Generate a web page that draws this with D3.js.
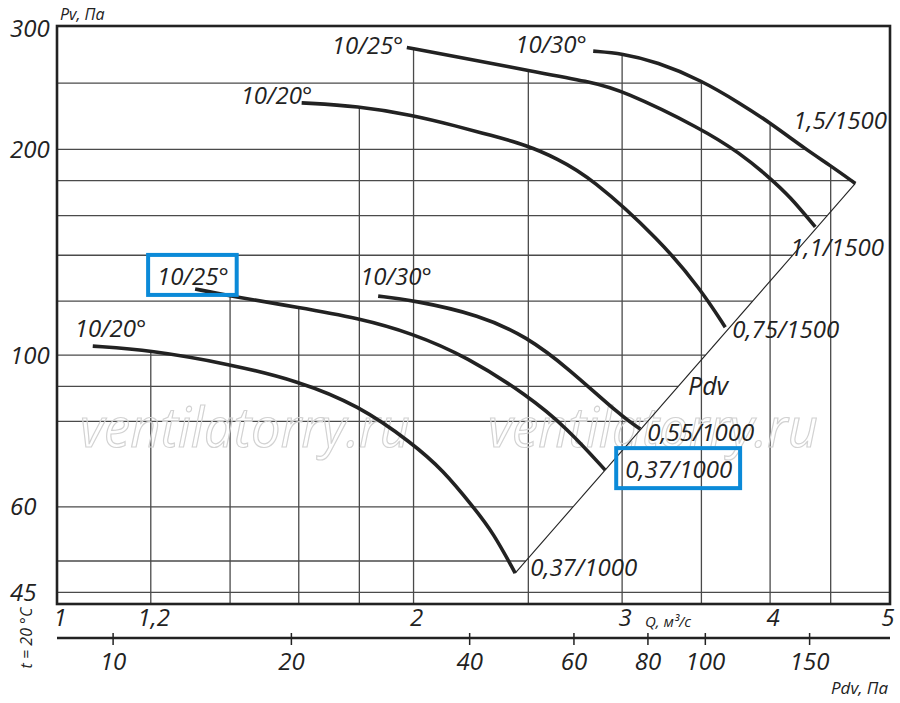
<!DOCTYPE html>
<html>
<head>
<meta charset="utf-8">
<script src="https://cdn.jsdelivr.net/npm/d3@7"></script>
<style>
body { margin: 0; background: #fff; }
text { font-family: "Open Sans", "DejaVu Sans", sans-serif; font-style: italic; fill: #222; }
</style>
</head>
<body>
<svg id="chart" width="900" height="703"></svg>
<script>
// fan curves, Q in m3/s and Pv in Pa
var q20lo = [1.072, 1.198, 1.400, 1.598, 1.796, 1.994, 2.118, 2.246, 2.335, 2.437];
var pv20lo = [103.1, 101.7, 97.0, 91.7, 84.5, 74.4, 67.9, 60.0, 55.0, 48.0];
var q25lo = [1.308, 1.400, 1.598, 1.796, 1.994, 2.220, 2.494, 2.696, 2.903];
var pv25lo = [125.0, 122.0, 117.5, 113.3, 107.7, 99.4, 87.4, 78.2, 67.9];
var q30lo = [1.867, 1.994, 2.277, 2.494, 2.696, 3.000, 3.108];
var pv30lo = [122.0, 120.4, 114.5, 106.3, 96.0, 81.2, 78.0];
var q20hi = [1.609, 1.795, 1.997, 2.176, 2.322, 2.493, 2.642, 2.820, 3.231, 3.499, 3.666];
var pv20hi = [233.9, 231.4, 224.4, 216.2, 209.8, 202.8, 194.0, 182.3, 147.3, 124.5, 109.9];
var q25hi = [1.974, 2.176, 2.493, 2.820, 2.999, 3.498, 3.775, 3.989, 4.160, 4.367];
var pv25hi = [281.8, 273.1, 261.1, 251.0, 244.1, 214.6, 197.3, 182.3, 170.5, 154.0];
var q30hi = [2.836, 2.999, 3.210, 3.498, 3.775, 3.989, 4.297, 4.491, 4.721];
var pv30hi = [278.4, 276.2, 268.5, 252.5, 233.4, 219.4, 199.5, 189.7, 178.3];

var startLabels = ["10/20°", "10/25°", "10/30°", "10/20°", "10/25°", "10/30°"];
var endLabels = ["0,37/1000", "0,37/1000", "0,55/1000", "0,75/1500", "1,1/1500", "1,5/1500"];

// Pv = Pdv line
var diagQ = [2.437, 4.721];
var diagPv = [48.0, 178.3];

var qGrid = [1.2, 1.4, 1.6, 1.8, 2, 2.5, 3, 3.5, 4, 4.5];
var qTicks = [1, 1.2, 2, 3, 4, 5];
var qTickLabels = ["1", "1,2", "2", "3", "4", "5"];
var pvGrid = [250, 200, 180, 160, 140, 120, 100, 90, 80, 60, 50, 45];
var pvTicks = [300, 200, 100, 60, 45];
var pdvTicks = [10, 20, 40, 60, 80, 100, 150];
var pdvPerQ2 = 8.04;   // Pdv, Pa for Q = 1 m3/s

// label nudges (px) from curve start / end
var startNudge = [[-18, -9], [-38, -4], [-18, -11], [-61, 1], [-75, 6], [-78, 2]];
var endNudge = [[15, 3], [20, 8], [7, 12], [7, 11], [-25, 29], [-62, -54]];

var svg = d3.select("#chart");
var plotL = 57, plotR = 890, plotT = 26, plotB = 604;

var x = d3.scaleLog().domain([1, 5.05]).range([plotL, plotR]);
var y = d3.scaleLog().domain([43.26, 303]).range([plotB, plotT]);
var xPdv = d3.scaleLog().domain([pdvPerQ2, pdvPerQ2 * 5.05 * 5.05]).range([plotL, plotR]);

var curves = [
    { q: q20lo, pv: pv20lo },
    { q: q25lo, pv: pv25lo },
    { q: q30lo, pv: pv30lo },
    { q: q20hi, pv: pv20hi },
    { q: q25hi, pv: pv25hi },
    { q: q30hi, pv: pv30hi }
];
curves.forEach(function (c, i) {
    c.pts = c.q.map(function (q, j) { return [x(q), y(c.pv[j])]; });
    c.start = startLabels[i];
    c.end = endLabels[i];
});

function yOnCurve(pts, px) {
    for (var i = 0; i < pts.length - 1; i++) {
        var a = pts[i], b = pts[i + 1];
        if (px >= a[0] && px <= b[0]) return a[1] + (b[1] - a[1]) * (px - a[0]) / (b[0] - a[0]);
    }
    return null;
}

// grid: verticals hang from the top curve, horizontals stop at the right edge of the field
var grid = svg.append("g").attr("stroke", "#4a4a4a").attr("stroke-width", 1.3);

qGrid.forEach(function (q) {
    var px = x(q);
    var t = d3.min(curves, function (c) { return yOnCurve(c.pts, px); });
    if (t == null) t = plotT;
    grid.append("line").attr("x1", px).attr("x2", px).attr("y1", t).attr("y2", plotB);
});

var edge = curves[5].pts.concat([[x(diagQ[0]), y(diagPv[0])]]);
pvGrid.forEach(function (pv) {
    var py = y(pv), ex = plotR;
    for (var i = 0; i < edge.length - 1; i++) {
        var a = edge[i], b = edge[i + 1];
        if (py >= a[1] && py <= b[1]) { ex = a[0] + (b[0] - a[0]) * (py - a[1]) / (b[1] - a[1]); break; }
    }
    grid.append("line").attr("x1", plotL).attr("x2", ex).attr("y1", py).attr("y2", py);
});

// watermark
[80, 488].forEach(function (wx) {
    svg.append("text")
        .attr("x", wx).attr("y", 447)
        .attr("textLength", 330).attr("lengthAdjust", "spacingAndGlyphs")
        .style("font-size", "54px")
        .style("fill", "none")
        .style("stroke", "#d2d2d2")
        .style("stroke-width", 1.2)
        .text("ventilatorry.ru");
});

// Pdv diagonal
svg.append("path")
    .datum(diagQ.map(function (q, i) { return [q, diagPv[i]]; }))
    .attr("fill", "none").attr("stroke", "#222").attr("stroke-width", 1.1)
    .attr("d", d3.line().x(function (d) { return x(d[0]); }).y(function (d) { return y(d[1]); }));

var line = d3.line()
    .x(function (d) { return d[0]; })
    .y(function (d) { return d[1]; })
    .curve(d3.curveBasis);

svg.append("g").selectAll("path")
    .data(curves)
    .enter()
    .append("path")
    .attr("fill", "none").attr("stroke", "#222").attr("stroke-width", 3.6)
    .attr("d", function (d) { return line(d.pts); });

var startText = svg.append("g").selectAll("text")
    .data(curves).enter().append("text")
    .attr("x", function (d, i) { return d.pts[0][0] + startNudge[i][0]; })
    .attr("y", function (d, i) { return d.pts[0][1] + startNudge[i][1]; })
    .style("font-size", "24px")
    .text(function (d) { return d.start; });

var endText = svg.append("g").selectAll("text")
    .data(curves).enter().append("text")
    .attr("x", function (d, i) { return d.pts[d.pts.length - 1][0] + endNudge[i][0]; })
    .attr("y", function (d, i) { return d.pts[d.pts.length - 1][1] + endNudge[i][1]; })
    .style("font-size", "24px")
    .text(function (d) { return d.end; });

svg.append("text").attr("x", 688).attr("y", 395).style("font-size", "25px").text("Pdv");

// blue marks round two labels
[startText.nodes()[1], endText.nodes()[1]].forEach(function (node) {
    var b = node.getBBox();
    svg.append("rect")
        .attr("x", b.x - 9).attr("y", b.y - 4)
        .attr("width", b.width + 17).attr("height", b.height + 7)
        .attr("fill", "none").attr("stroke", "#0b8ad8").attr("stroke-width", 4);
});

// frame
svg.append("rect")
    .attr("x", plotL).attr("y", plotT)
    .attr("width", plotR - plotL).attr("height", plotB - plotT)
    .attr("fill", "none").attr("stroke", "#222").attr("stroke-width", 2.6);

// Pv labels
svg.append("g").selectAll("text")
    .data(pvTicks).enter().append("text")
    .attr("x", 10)
    .attr("y", function (d) { return y(d) + 8.5; })
    .style("font-size", "24px")
    .text(function (d) { return d; });

// Q labels
svg.append("g").selectAll("text")
    .data(qTicks).enter().append("text")
    .attr("x", function (d) { return x(d) + 3; })
    .attr("y", 626)
    .attr("text-anchor", "middle")
    .style("font-size", "24px")
    .text(function (d, i) { return qTickLabels[i]; });

// Pdv axis
svg.append("line")
    .attr("x1", plotL).attr("x2", plotR).attr("y1", 638).attr("y2", 638)
    .attr("stroke", "#222").attr("stroke-width", 2.5);
var pdvAxis = svg.append("g").selectAll("g").data(pdvTicks).enter().append("g");
pdvAxis.append("line")
    .attr("x1", function (d) { return xPdv(d); }).attr("x2", function (d) { return xPdv(d); })
    .attr("y1", 633).attr("y2", 645)
    .attr("stroke", "#222").attr("stroke-width", 1.5);
pdvAxis.append("text")
    .attr("x", function (d) { return xPdv(d); })
    .attr("y", 670)
    .attr("text-anchor", "middle")
    .style("font-size", "24px")
    .text(function (d) { return d; });

// axis titles
svg.append("text").attr("x", 60).attr("y", 20).style("font-size", "16px").text("Pv, Па");
svg.append("text").attr("x", 645).attr("y", 627).style("font-size", "15px").text("Q, м³/с");
svg.append("text").attr("x", 888).attr("y", 694).attr("text-anchor", "end").style("font-size", "17px").text("Pdv, Па");
svg.append("text")
    .attr("transform", "translate(32,638) rotate(-90)")
    .attr("text-anchor", "middle")
    .style("font-size", "16px")
    .text("t = 20 °C");
</script>
</body>
</html>
